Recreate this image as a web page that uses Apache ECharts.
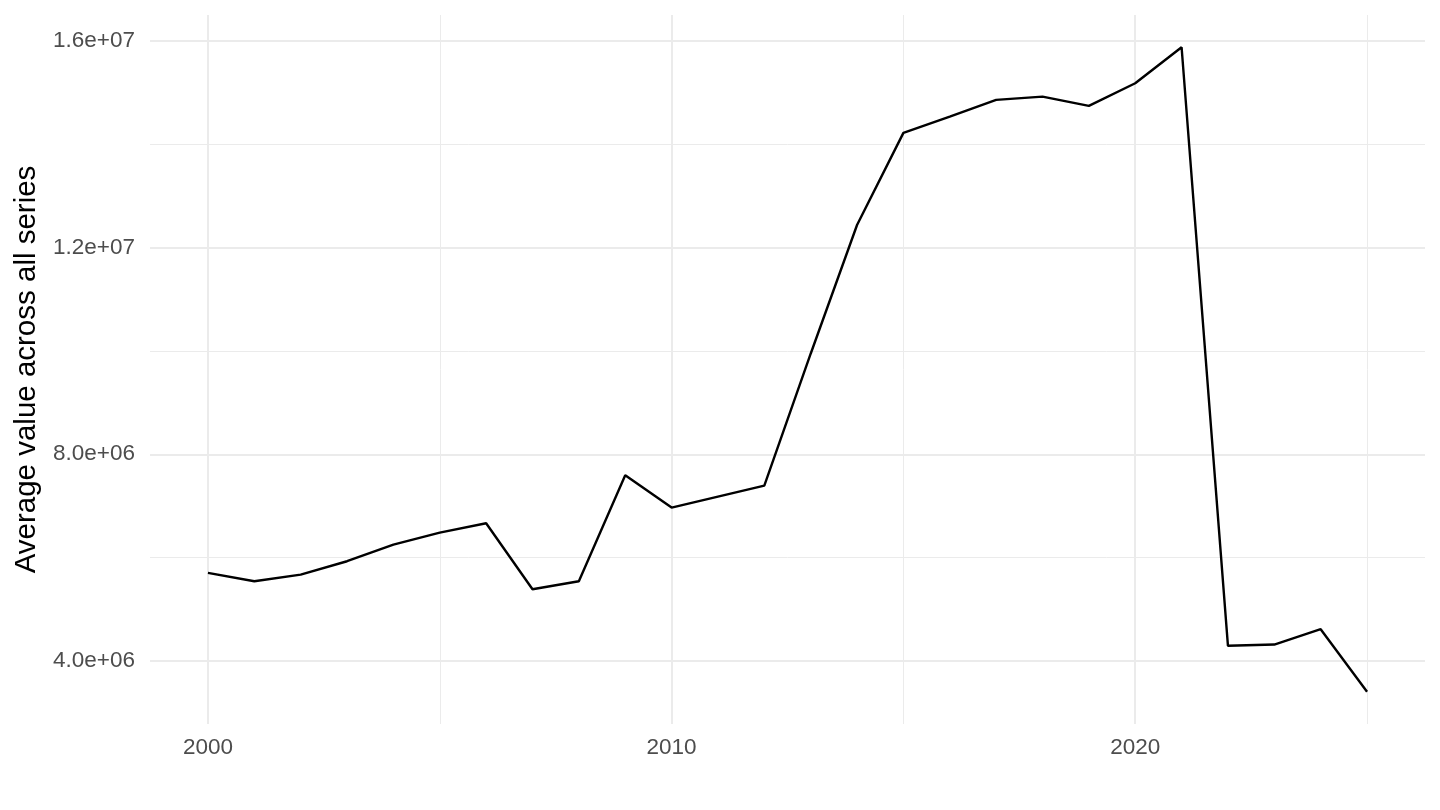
<!DOCTYPE html>
<html>
<head>
<meta charset="utf-8">
<title>Average value across all series</title>
<script src="https://cdn.jsdelivr.net/npm/echarts@6/dist/echarts.min.js"></script>
<style>
  html, body { margin: 0; padding: 0; background: #fff; }
  #chart { width: 1440px; height: 810px; }
</style>
</head>
<body>
<div id="chart"></div>
<script>
// values
var years = [2000, 2001, 2002, 2003, 2004, 2005, 2006, 2007, 2008, 2009,
             2010, 2011, 2012, 2013, 2014, 2015, 2016, 2017, 2018, 2019,
             2020, 2021, 2022, 2023, 2024, 2025];
var avgValue = [5.703e6, 5.541e6, 5.670e6, 5.928e6, 6.251e6, 6.483e6, 6.663e6, 5.386e6, 5.541e6, 7.592e6,
                6.967e6, 7.180e6, 7.393e6, 9.947e6, 12.44e6, 14.225e6, 14.54e6, 14.863e6, 14.927e6, 14.747e6,
                15.186e6, 15.883e6, 4.290e6, 4.315e6, 4.612e6, 3.400e6];

var xMajor = [2000, 2010, 2020];
var xMinor = [2005, 2015, 2025];
var yMajor = [4e6, 8e6, 12e6, 16e6];
var yMinor = [6e6, 10e6, 14e6];

// ggplot style 5% expansion
function expand(lo, hi) {
    var pad = (hi - lo) * 0.05;
    return [lo - pad, hi + pad];
}
var xLim = expand(Math.min.apply(null, years), Math.max.apply(null, years));
var yLim = expand(Math.min.apply(null, avgValue), Math.max.apply(null, avgValue));

function sci(v) {
    // 4.0e+06 style
    var s = v.toExponential(1);
    var parts = s.split('e');
    var exp = parseInt(parts[1], 10);
    var sign = exp < 0 ? '-' : '+';
    var e = Math.abs(exp).toString();
    if (e.length < 2) e = '0' + e;
    return parts[0] + 'e' + sign + e;
}

var major = { color: '#EBEBEB', width: 2, type: 'solid' };
var minor = { color: '#EBEBEB', width: 1, type: 'solid' };

var gridLines = [];
xMajor.forEach(function (v) { gridLines.push({ xAxis: v, lineStyle: major }); });
xMinor.forEach(function (v) { gridLines.push({ xAxis: v, lineStyle: minor }); });
yMajor.forEach(function (v) { gridLines.push({ yAxis: v, lineStyle: major }); });
yMinor.forEach(function (v) { gridLines.push({ yAxis: v, lineStyle: minor }); });

var chart = echarts.init(document.getElementById('chart'));
var option = {
    animation: false,
    backgroundColor: '#ffffff',
    textStyle: { fontFamily: 'Liberation Sans, Arial, sans-serif' },
    grid: { left: 150, right: 15, top: 15, bottom: 86, containLabel: false },
    xAxis: {
        type: 'value',
        min: xLim[0],
        max: xLim[1],
        axisLine: { show: false },
        axisTick: { show: false },
        splitLine: { show: false },
        axisLabel: {
            customValues: xMajor,
            color: '#4D4D4D',
            fontSize: 22.5,
            margin: 12,
            formatter: function (v) { return String(v); }
        }
    },
    yAxis: {
        type: 'value',
        min: yLim[0],
        max: yLim[1],
        name: 'Average value across all series',
        nameLocation: 'middle',
        nameGap: 100,
        nameTextStyle: { color: '#000000', fontSize: 29.5 },
        axisLine: { show: false },
        axisTick: { show: false },
        splitLine: { show: false },
        axisLabel: {
            customValues: yMajor,
            color: '#4D4D4D',
            fontSize: 22.5,
            margin: 15,
            formatter: function (v) { return sci(v); }
        }
    },
    series: [
        {
            name: 'grid',
            type: 'line',
            data: [],
            z: 1,
            silent: true,
            markLine: {
                silent: true,
                z: 1,
                symbol: ['none', 'none'],
                label: { show: false },
                emphasis: { disabled: true },
                data: gridLines
            }
        },
        {
            name: 'average',
            type: 'line',
            z: 10,
            data: years.map(function (y, i) { return [y, avgValue[i]]; }),
            showSymbol: false,
            symbol: 'none',
            lineStyle: { color: '#000000', width: 2.4 },
            emphasis: { disabled: true }
        }
    ]
};
chart.setOption(option);
</script>
</body>
</html>
